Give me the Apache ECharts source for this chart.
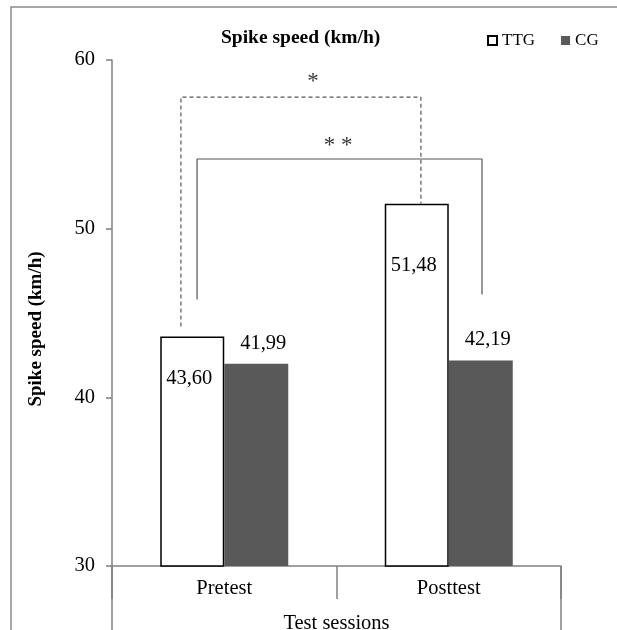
<!DOCTYPE html>
<html><head><meta charset="utf-8">
<script src="https://cdn.jsdelivr.net/npm/echarts@6/dist/echarts.min.js"></script>
<style>html,body{margin:0;padding:0;background:#fff}#c{width:617px;height:630px}</style>
</head><body><div id="c"></div>
<script>
const categories = ['Pretest', 'Posttest'];
const ttg = [43.60, 51.48];
const cg = [41.99, 42.19];
const yTicks = [30, 40, 50, 60];
// significance brackets: [x on 0..2 category scale, value]
const bracketDashed = [[0.307, 44.2], [0.307, 57.8], [1.376, 57.8], [1.376, 51.48]];
const bracketSolid = [[0.379, 45.8], [0.379, 54.13], [1.648, 54.13], [1.648, 46.1]];
const stars = [[0.895, 58.72, '*'], [1.007, 54.92, '* *']];

const FONT = 'Liberation Serif';
const fmt = v => v.toFixed(2).replace('.', ',');
const chart = echarts.init(document.getElementById('c'), null, {renderer: 'canvas'});
const ttgInsideDist = [31, 51];

const option = {
  animation: false,
  backgroundColor: '#fff',
  title: {
    text: 'Spike speed (km/h)', left: 221, top: 28, padding: 0,
    textStyle: {fontFamily: FONT, fontSize: 19.5, fontWeight: 'bold', color: '#000'}
  },
  legend: {
    left: 487, top: 32, padding: 0, itemWidth: 9, itemHeight: 9, itemGap: 26,
    data: [{name: 'TTG', icon: 'rect'}, {name: 'CG', icon: 'rect'}],
    textStyle: {fontFamily: FONT, fontSize: 17, color: '#000'}
  },
  grid: {left: 112, right: 56, top: 60, bottom: 64, outerBoundsMode: 'none', containLabel: false},
  xAxis: [{
    type: 'category', data: categories,
    name: 'Test sessions', nameLocation: 'middle', nameGap: 47,
    nameTextStyle: {fontFamily: FONT, fontSize: 20.5, color: '#000'},
    axisLine: {lineStyle: {color: '#808080', width: 1.5}},
    axisTick: {show: true, length: 33, interval: 0, lineStyle: {color: '#808080', width: 1.5}},
    axisLabel: {fontFamily: FONT, fontSize: 20.5, color: '#000', margin: 12}
  }, {
    type: 'value', min: 0, max: 2, show: false
  }],
  yAxis: {
    type: 'value', min: yTicks[0], max: yTicks[yTicks.length - 1], interval: 10,
    name: 'Spike speed (km/h)', nameLocation: 'middle', nameGap: 66,
    nameTextStyle: {fontFamily: FONT, fontSize: 19, fontWeight: 'bold', color: '#000', padding: [0, 32, 0, 0]},
    axisLine: {show: true, lineStyle: {color: '#808080', width: 1.5}},
    axisTick: {show: true, length: 6, lineStyle: {color: '#808080', width: 1.5}},
    splitLine: {show: false},
    axisLabel: {fontFamily: FONT, fontSize: 20.5, color: '#000', margin: 17}
  },
  series: [{
    name: 'TTG', type: 'bar', barWidth: 64, barGap: '0%',
    data: ttg.map((v, i) => ({value: v, label: {distance: ttgInsideDist[i]}})),
    itemStyle: {color: '#fff', borderColor: '#000', borderWidth: 1.5},
    label: {show: true, position: 'insideTop', formatter: p => fmt(p.value),
      fontFamily: FONT, fontSize: 20.5, color: '#000', offset: [-3, 0]}
  }, {
    name: 'CG', type: 'bar', barWidth: 64, barGap: '0%',
    data: cg,
    itemStyle: {color: '#595959'},
    label: {show: true, position: 'top', distance: 10, formatter: p => fmt(p.value),
      fontFamily: FONT, fontSize: 20.5, color: '#000', offset: [7, 0]}
  }, {
    type: 'line', xAxisIndex: 1, data: bracketDashed, symbol: 'none', silent: true,
    lineStyle: {color: '#555', width: 1.2, type: [4, 3]}
  }, {
    type: 'line', xAxisIndex: 1, data: bracketSolid, symbol: 'none', silent: true,
    lineStyle: {color: '#555', width: 1.2}
  }, {
    type: 'scatter', xAxisIndex: 1, symbolSize: 0, silent: true,
    data: stars.map(s => ({value: [s[0], s[1]], name: s[2]})),
    label: {show: true, position: 'inside', formatter: p => p.name,
      fontFamily: FONT, fontSize: 23, color: '#000'}
  }]
};
chart.setOption(option);

function addBox() {
  const left = chart.convertToPixel({xAxisIndex: 1}, 0);
  const right = chart.convertToPixel({xAxisIndex: 1}, 2);
  const base = chart.convertToPixel({yAxisIndex: 0}, yTicks[0]);
  chart.setOption({
    graphic: [
      {type: 'rect', shape: {x: 11, y: 7, width: 640, height: 660}, style: {fill: 'none', stroke: '#8a8a8a', lineWidth: 1.5}, silent: true},
      {type: 'line', shape: {x1: left, y1: base, x2: left, y2: 640}, style: {stroke: '#808080', lineWidth: 1.5}, silent: true},
      {type: 'line', shape: {x1: right, y1: base, x2: right, y2: 640}, style: {stroke: '#808080', lineWidth: 1.5}, silent: true}
    ]
  });
}
addBox();
</script>
</body></html>
